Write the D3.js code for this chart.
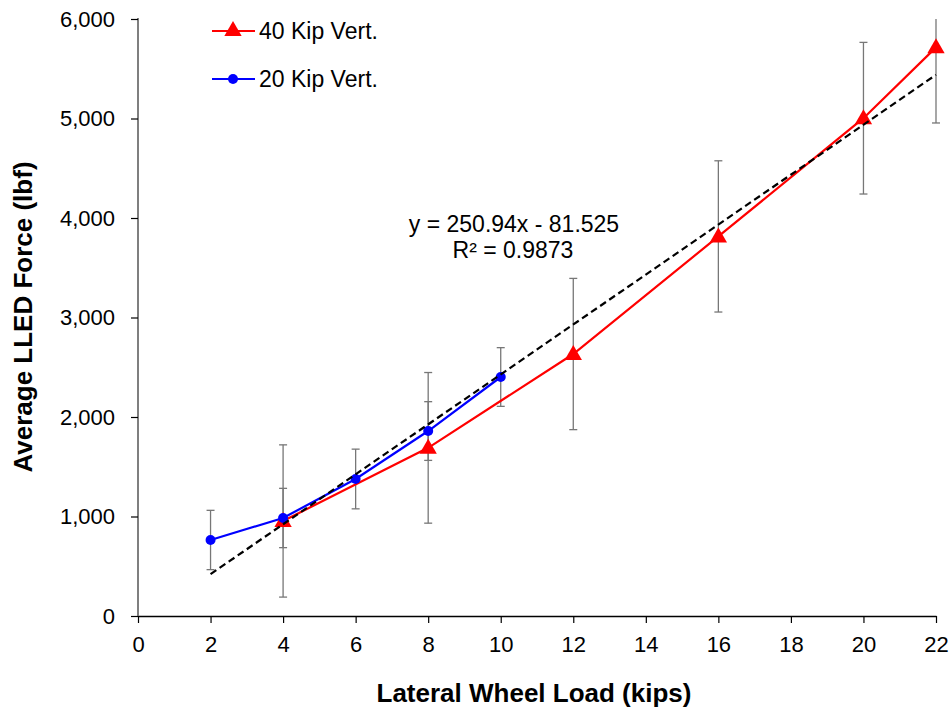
<!DOCTYPE html>
<html>
<head>
<meta charset="utf-8">
<script src="https://cdn.jsdelivr.net/npm/d3@7"></script>
<style>
body { margin: 0; background: #fff; }
text { font-family: "Liberation Sans", Arial, sans-serif; }
</style>
</head>
<body>
<script>
const w = 952;
const h = 711;

// 40 kip vertical series
const x40 = [4, 8, 12, 16, 20, 22];
const y40 = [955, 1690, 2633, 3815, 5003, 5715];
const err40 = [765, 757, 760, 760, 762, 760];

// 20 kip vertical series
const x20 = [2, 4, 6, 8, 10];
const y20 = [764, 985, 1377, 1859, 2402];
const err20 = [298, 298, 300, 295, 295];

const slope = 250.94, intercept = -81.525;
const trendRange = [2, 22];
const xTicks = [0, 2, 4, 6, 8, 10, 12, 14, 16, 18, 20, 22];
const yTicks = [0, 1000, 2000, 3000, 4000, 5000, 6000];

const pLeft = 138, pRight = 936, pTop = 19, pBottom = 616;

const x = d3.scaleLinear().domain([0, 22]).range([pLeft, pRight]);
const y = d3.scaleLinear().domain([0, 6000]).range([pBottom, pTop]);

const svg = d3.select("body").append("svg")
  .attr("width", w).attr("height", h);

svg.append("defs").append("clipPath").attr("id", "plot")
  .append("rect").attr("x", pLeft - 10).attr("y", pTop).attr("width", pRight - pLeft + 20).attr("height", pBottom - pTop);

// axes
const xAxis = svg.append("g").attr("transform", `translate(0,${pBottom})`)
  .call(d3.axisBottom(x).tickValues(xTicks).tickSize(7).tickSizeOuter(0).tickPadding(13));
const yAxis = svg.append("g").attr("transform", `translate(${pLeft},0)`)
  .call(d3.axisLeft(y).tickValues(yTicks).tickSize(7).tickSizeOuter(0).tickPadding(16).tickFormat(d3.format(",")));
[xAxis, yAxis].forEach(g => {
  g.select(".domain").attr("stroke", "#000").attr("stroke-width", 1.5);
  g.selectAll(".tick line").attr("stroke", "#000").attr("stroke-width", 1.2);
  g.selectAll("text").attr("font-size", 22).attr("fill", "#000")
    .style("font-family", "Liberation Sans, Arial, sans-serif");
});
yAxis.select(".domain").attr("d", `M0,${pBottom}V${pTop - 1}`).attr("stroke", "#555");

const plot = svg.append("g").attr("clip-path", "url(#plot)");

// error bars
function errBars(xs, ys, es) {
  xs.forEach((xv, i) => {
    const g = plot.append("g").attr("stroke", "#777").attr("stroke-width", 1.3);
    const lo = y(ys[i] - es[i]), hi = y(ys[i] + es[i]);
    g.append("line").attr("x1", x(xv)).attr("x2", x(xv)).attr("y1", lo).attr("y2", hi);
    g.append("line").attr("x1", x(xv) - 4).attr("x2", x(xv) + 4).attr("y1", lo).attr("y2", lo);
    g.append("line").attr("x1", x(xv) - 4).attr("x2", x(xv) + 4).attr("y1", hi).attr("y2", hi);
  });
}
errBars(x40, y40, err40);
errBars(x20, y20, err20);

const line = d3.line().x(d => x(d[0])).y(d => y(d[1]));
const pts40 = x40.map((v, i) => [v, y40[i]]);
const pts20 = x20.map((v, i) => [v, y20[i]]);

plot.append("path").datum(pts40).attr("d", line)
  .attr("fill", "none").attr("stroke", "#ff0000").attr("stroke-width", 2.2);
plot.append("path").datum(pts20).attr("d", line)
  .attr("fill", "none").attr("stroke", "#0000ff").attr("stroke-width", 2.2);

const tri = d3.symbol().type(d3.symbolTriangle).size(130);
plot.selectAll(".tri").data(pts40).join("path")
  .attr("transform", d => `translate(${x(d[0])},${y(d[1]) + 1})`)
  .attr("d", tri).attr("fill", "#ff0000");
plot.selectAll(".dot").data(pts20).join("circle")
  .attr("cx", d => x(d[0])).attr("cy", d => y(d[1])).attr("r", 5).attr("fill", "#0000ff");

// trendline
const trend = trendRange.map(v => [v, slope * v + intercept]);
plot.append("path").datum(trend).attr("d", line)
  .attr("fill", "none").attr("stroke", "#000").attr("stroke-width", 2.2)
  .attr("stroke-dasharray", "7,4");

svg.append("text").attr("x", 514).attr("y", 232).attr("text-anchor", "middle")
  .attr("font-size", 23).text("y = 250.94x - 81.525");
svg.append("text").attr("x", 513).attr("y", 258).attr("text-anchor", "middle")
  .attr("font-size", 23).text("R² = 0.9873");

// legend
const legend = [
  { label: "40 Kip Vert.", color: "#ff0000", shape: "tri", yy: 31 },
  { label: "20 Kip Vert.", color: "#0000ff", shape: "dot", yy: 79 }
];
legend.forEach(l => {
  svg.append("line").attr("x1", 212).attr("x2", 255).attr("y1", l.yy).attr("y2", l.yy)
    .attr("stroke", l.color).attr("stroke-width", 2.2);
  if (l.shape === "tri") {
    svg.append("path").attr("transform", `translate(233,${l.yy})`).attr("d", tri).attr("fill", l.color);
  } else {
    svg.append("circle").attr("cx", 233).attr("cy", l.yy).attr("r", 5).attr("fill", l.color);
  }
  svg.append("text").attr("x", 259).attr("y", l.yy + 8).attr("font-size", 23).text(l.label);
});

// axis titles
svg.append("text").attr("x", 534).attr("y", 702).attr("text-anchor", "middle")
  .attr("font-size", 26).attr("font-weight", "bold").text("Lateral Wheel Load (kips)");
svg.append("text").attr("transform", "translate(32,317) rotate(-90)").attr("text-anchor", "middle")
  .attr("font-size", 26).attr("font-weight", "bold").text("Average LLED Force (lbf)");
</script>
</body>
</html>
